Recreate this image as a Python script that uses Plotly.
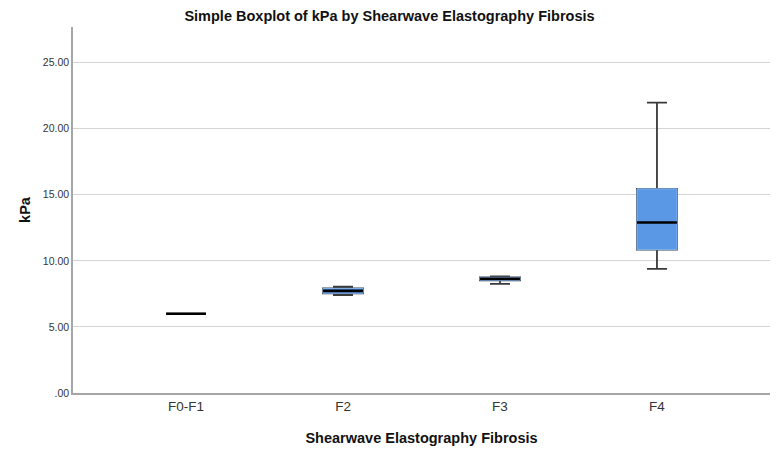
import plotly.graph_objects as go

categories = ["F0-F1", "F2", "F3", "F4"]
lower_whisker = [6.00, 7.40, 8.26, 9.40]
q1_values = [6.00, 7.55, 8.52, 10.85]
median_values = [6.00, 7.73, 8.64, 12.90]
q3_values = [6.00, 7.92, 8.75, 15.45]
upper_whisker = [6.00, 8.05, 8.83, 21.97]

y_tick_vals = [0, 5, 10, 15, 20, 25]
y_tick_text = [".00", "5.00", "10.00", "15.00", "20.00", "25.00"]

font_family = "Liberation Sans, Arial, sans-serif"
box_fill = "#5a98e6"
box_edge = "#86b4ee"
whisker_col = "#3a3a3a"

fig = go.Figure()

# whiskers and caps
fig.add_trace(go.Box(
    x=categories, q1=q1_values, median=median_values, q3=q3_values,
    lowerfence=lower_whisker, upperfence=upper_whisker,
    width=0.255, whiskerwidth=0.5,
    line=dict(color=whisker_col, width=1.8),
    fillcolor=box_fill, boxpoints=False, hoverinfo="skip",
    showlegend=False,
))
# box body (covers dark outline)
fig.add_trace(go.Box(
    x=categories, q1=q1_values, median=median_values, q3=q3_values,
    lowerfence=q1_values, upperfence=q3_values,
    width=0.255, whiskerwidth=0,
    line=dict(color=box_edge, width=1),
    fillcolor=box_fill, boxpoints=False, hoverinfo="skip",
    showlegend=False,
))
# median lines
fig.add_trace(go.Scatter(
    x=categories, y=median_values, mode="markers",
    marker=dict(symbol="line-ew", size=28.5,
                line=dict(color="#000000", width=2.6)),
    hoverinfo="skip", showlegend=False,
))

fig.update_layout(
    width=779, height=458,
    margin=dict(l=73, r=9, t=27, b=65),
    paper_bgcolor="white", plot_bgcolor="white",
    boxmode="overlay",
    font=dict(family=font_family, color="#222222"),
    title=dict(text="<b>Simple Boxplot of kPa by Shearwave Elastography Fibrosis</b>",
               x=0.5, xanchor="center", y=1 - 16 / 458, yanchor="middle",
               font=dict(size=14.5, color="#111111")),
    xaxis=dict(
        type="category", range=[-0.72, 3.72],
        showgrid=False, zeroline=False,
        showline=True, linecolor="#a6a6a6", linewidth=1.5,
        ticks="", tickfont=dict(size=13.5, color="#333333"),
        title=dict(text="<b>Shearwave Elastography Fibrosis</b>",
                   font=dict(size=14.5, color="#111111"), standoff=20),
    ),
    yaxis=dict(
        range=[0, 27.7],
        tickvals=y_tick_vals, ticktext=y_tick_text,
        showgrid=True, gridcolor="#d4d4d4", gridwidth=1,
        zeroline=False,
        showline=True, linecolor="#a6a6a6", linewidth=1.5,
        ticks="", tickfont=dict(size=10.5, color="#333333"),
        title=dict(text="<b>kPa</b>", font=dict(size=14.5, color="#111111"),
                   standoff=9),
    ),
)

fig.write_html("out.html")
